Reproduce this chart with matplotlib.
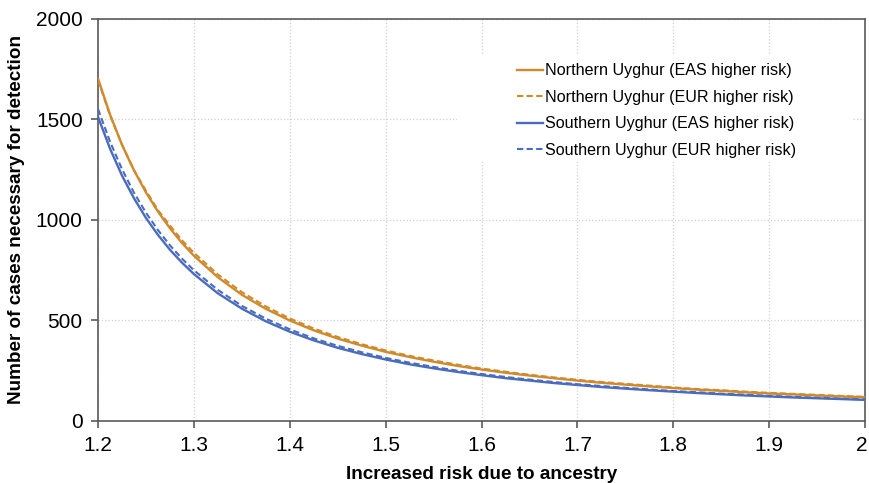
import matplotlib
matplotlib.use("Agg")
import matplotlib.pyplot as plt
import matplotlib.transforms as mtransforms
from matplotlib.patches import Rectangle

plt.rcParams["font.family"] = ["Liberation Sans", "DejaVu Sans"]

# increased risk due to ancestry (x)
risk = [1.2000, 1.2125, 1.2250, 1.2375, 1.2500, 1.2625, 1.2750, 1.2875,
        1.300, 1.325, 1.350, 1.375, 1.400, 1.425,
        1.450, 1.475, 1.500, 1.525, 1.550, 1.575, 1.600, 1.625, 1.650, 1.675,
        1.700, 1.725, 1.750, 1.775, 1.800, 1.825, 1.850, 1.875, 1.900, 1.925,
        1.950, 1.975, 2.000]

# number of cases necessary for detection
north_eas = [1703, 1525, 1374, 1247, 1137, 1042, 959, 886,
             822, 715, 628, 558, 500, 451,
             410, 375, 344, 318, 295, 274, 256, 240, 226, 213,
             201, 190, 181, 172, 164, 156, 150, 143, 137, 132,
             127, 122, 118]
north_eur = [1695, 1521, 1375, 1248, 1146, 1049, 973, 899,
             837, 729, 641, 570, 510, 460,
             418, 382, 351, 324, 301, 280, 261, 245, 230, 217,
             205, 194, 185, 176, 167, 159, 153, 146, 140, 135,
             130, 125, 120]
south_eas = [1513, 1355, 1221, 1108, 1010, 926, 852, 788,
             731, 635, 559, 496, 444, 401,
             364, 333, 306, 282, 262, 244, 228, 213, 201, 189,
             179, 169, 161, 153, 146, 139, 133, 127, 122, 117,
             113, 109, 105]
south_eur = [1552, 1390, 1253, 1136, 1036, 950, 874, 808,
             750, 652, 573, 509, 456, 411,
             374, 342, 314, 290, 269, 250, 234, 219, 206, 194,
             183, 174, 165, 157, 149, 143, 136, 131, 125, 120,
             116, 111, 107]

x_ticks = [1.2, 1.3, 1.4, 1.5, 1.6, 1.7, 1.8, 1.9, 2.0]
x_tick_labels = ["1.2", "1.3", "1.4", "1.5", "1.6", "1.7", "1.8", "1.9", "2"]
y_ticks = [0, 500, 1000, 1500, 2000]

orange = "#CF8A2C"
blue = "#4A6CBF"
dash = (0, (3, 1.6))

fig = plt.figure(figsize=(8.69, 4.83), dpi=100)
ax = fig.add_axes([0.1128, 0.1284, 0.8826, 0.8323])

ax.plot(risk, north_eas, color=orange, lw=1.7, label="Northern Uyghur (EAS higher risk)", zorder=3)
ax.plot(risk, north_eur, color=orange, lw=1.5, ls=dash, label="Northern Uyghur (EUR higher risk)", zorder=3)
ax.plot(risk, south_eas, color=blue, lw=1.7, label="Southern Uyghur (EAS higher risk)", zorder=3)
ax.plot(risk, south_eur, color=blue, lw=1.5, ls=dash, label="Southern Uyghur (EUR higher risk)", zorder=3)

ax.set_xlim(1.2, 2.0)
ax.set_ylim(0, 2000)
ax.set_xticks(x_ticks)
ax.set_xticklabels(x_tick_labels)
ax.set_yticks(y_ticks)

ax.set_axisbelow(True)
ax.grid(True, color="#d0d0d0", ls=":", lw=0.9)
for s in ax.spines.values():
    s.set_color("#5a5a5a")
    s.set_linewidth(1.2)
ax.tick_params(direction="out", length=5, width=1.2, color="#5a5a5a",
               labelsize=15, pad=6)

# nudge the last x label so it stays inside the figure
last = ax.get_xticklabels()[-1]
last.set_transform(last.get_transform() +
                   mtransforms.ScaledTranslation(-3 / 100, 0, fig.dpi_scale_trans))

ax.set_xlabel("Increased risk due to ancestry", fontsize=13.6, fontweight="bold", labelpad=8)
ax.set_ylabel("Number of cases necessary for detection", fontsize=13.6, fontweight="bold", labelpad=8)

# white legend area covering gridlines
ax.add_patch(Rectangle((0.468, 0.644), 0.516, 0.266, transform=ax.transAxes,
                       facecolor="white", edgecolor="none", zorder=1))

ax.legend(loc="upper left", bbox_to_anchor=(0.546, 0.89), frameon=False,
          fontsize=11.6, handlelength=1.6, handletextpad=0.15, labelspacing=0.72,
          borderpad=0, borderaxespad=0)

fig.savefig("out.png", dpi=100)
